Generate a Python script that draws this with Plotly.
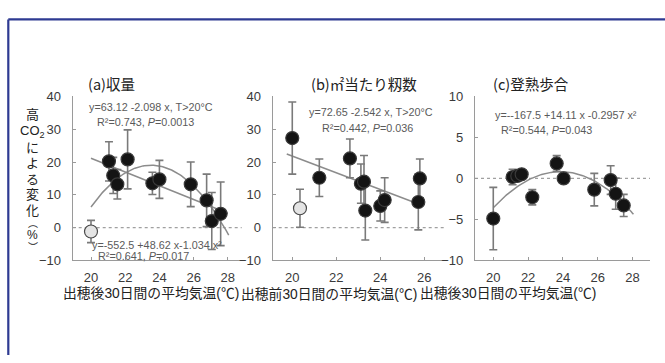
import numpy as np
import plotly.graph_objects as go

W, H = 665, 363

# ---------------- data ----------------
# (a) yield, x = mean temp 30 days after heading
a_x = [20.0, 21.05, 21.3, 21.54, 22.14, 23.59, 24.0, 25.83, 26.76, 27.06, 27.58]
a_y = [-1.2, 20.2, 15.9, 13.2, 20.8, 13.5, 14.7, 13.2, 8.3, 2.0, 4.2]
a_err = [3.4, 6.0, 5.5, 4.5, 9.0, 3.4, 5.8, 6.8, 8.0, 8.7, 9.7]
a_open = [True, False, False, False, False, False, False, False, False, False, False]
a_lin_coef = [63.12, -2.098]
a_lin_span = [20.0, 28.0]
a_quad_coef = [-552.5, 48.62, -1.034]
a_quad_span = [20.0, 28.05]

# (b) spikelets per m2, x = mean temp 30 days before heading
b_x = [20.35, 20.0, 21.23, 22.62, 23.12, 23.26, 23.32, 24.0, 24.2, 25.73, 25.8]
b_y = [5.9, 27.3, 15.2, 21.1, 13.4, 14.0, 5.2, 6.6, 8.4, 7.8, 15.0]
b_err = [5.8, 11.0, 5.7, 5.9, 6.0, 8.0, 9.0, 4.6, 6.8, 8.5, 5.9]
b_open = [True, False, False, False, False, False, False, False, False, False, False]
b_lin_coef = [72.65, -2.542]
b_lin_span = [19.75, 25.8]

# (c) ripening ratio
c_x = [20.0, 21.11, 21.38, 21.63, 22.24, 23.64, 24.04, 25.8, 26.74, 27.03, 27.49]
c_y = [-4.9, 0.17, 0.3, 0.5, -2.3, 1.83, 0.0, -1.37, -0.2, -1.87, -3.3]
c_err = [3.8, 0.95, 0.6, 0.4, 0.93, 0.95, 0.3, 1.98, 1.75, 1.9, 1.35]
c_quad_coef = [-167.5, 14.11, -0.2957]
c_quad_span = [20.0, 28.05]

a_xticks = [20, 22, 24, 26, 28]
b_xticks = [20, 22, 24, 26]
c_xticks = [20, 22, 24, 26, 28]
ab_yticks = [-10, 0, 10, 20, 30, 40]
c_yticks = [-10, -5, 0, 5, 10]

titles = ["(a)収量", "(b)㎡当たり籾数", "(c)登熟歩合"]
xtitles = ["出穂後30日間の平均気温(℃)", "出穂前30日間の平均気温(℃)", "出穂後30日間の平均気温(℃)"]
ylabel_chars = ["高", "CO<sub>2</sub>", "に", "よ", "る", "変", "化", "︵", "%", "︶"]

eq_a1 = "y=63.12 -2.098 x, T>20°C"
eq_a2 = "R²=0.743, <i>P</i>=0.0013"
eq_a3 = "y=-552.5 +48.62 x-1.034 x²"
eq_a4 = "R²=0.641, <i>P</i>=0.017"
eq_b1 = "y=72.65 -2.542 x, T>20°C"
eq_b2 = "R²=0.442, <i>P</i>=0.036"
eq_c1 = "y=--167.5 +14.11 x -0.2957 x²"
eq_c2 = "R²=0.544, <i>P</i>=0.043"

# ---------------- styles ----------------
CJK = "Noto Sans CJK JP"
LAT = "Liberation Sans, Arial, sans-serif"
MIX = "Liberation Sans, Noto Sans CJK JP, sans-serif"
AX = "#9a9a9a"
TXT = "#3a3a3a"
EQ = "#5a5a5a"
FIT = "#8c8c8c"

fig = go.Figure()


def px2x(px):
    return px / W


def py2y(py):
    return 1 - py / H


def poly(coef, xs):
    return sum(c * xs ** i for i, c in enumerate(coef))


def add_fit(coef, span, xa, ya):
    xs = np.linspace(span[0], span[1], 120)
    fig.add_trace(go.Scatter(x=xs, y=poly(coef, xs), mode="lines",
                             line=dict(color=FIT, width=1.5),
                             xaxis=xa, yaxis=ya, showlegend=False, hoverinfo="skip"))


def add_points(xv, yv, ev, openflag, xa, ya):
    fills = ["#e4e4e4" if o else "#141414" for o in openflag]
    lines = ["#4a4a4a" if o else "#3a3a3a" for o in openflag]
    fig.add_trace(go.Scatter(x=xv, y=yv, mode="markers",
                             error_y=dict(type="data", array=ev, color="#7a7a7a",
                                          thickness=1.6, width=4),
                             marker=dict(size=13, color=fills,
                                         line=dict(color=lines, width=1.2)),
                             xaxis=xa, yaxis=ya, showlegend=False))


add_fit(a_lin_coef, a_lin_span, "x", "y")
add_fit(a_quad_coef, a_quad_span, "x", "y")
add_points(a_x, a_y, a_err, a_open, "x", "y")

add_fit(b_lin_coef, b_lin_span, "x2", "y2")
add_points(b_x, b_y, b_err, b_open, "x2", "y2")

add_fit(c_quad_coef, c_quad_span, "x3", "y3")
add_points(c_x, c_y, c_err, [False] * len(c_x), "x3", "y3")

# axis geometry (pixels in the target picture)
y_top, y_bot = 93.3, 264.3
doms = [(72.7, 241.7), (272.7, 446.7), (475.0, 650.0)]
xranges = [[18.93, 28.81], [19.11, 27.02], [18.95, 29.0]]
xticks = [a_xticks, b_xticks, c_xticks]
yranges = [[-10, 40], [-10, 40], [-10, 10]]
yticks = [ab_yticks, ab_yticks, c_yticks]

layout_axes = {}
for i in range(3):
    sfx = "" if i == 0 else str(i + 1)
    layout_axes["xaxis" + sfx] = dict(
        domain=[px2x(doms[i][0]), px2x(doms[i][1])], range=xranges[i],
        anchor="y" + sfx, tickvals=xticks[i], ticks="inside", ticklen=3,
        tickcolor=AX, showline=True, linecolor=AX, linewidth=1.2,
        showgrid=False, zeroline=False, ticklabelstandoff=5,
        tickfont=dict(family=LAT, size=13, color=TXT))
    layout_axes["yaxis" + sfx] = dict(
        domain=[py2y(y_bot), py2y(y_top)], range=yranges[i],
        anchor="x" + sfx, tickvals=yticks[i], ticks="inside", ticklen=3,
        tickcolor=AX, showline=True, linecolor=AX, linewidth=1.2,
        showgrid=False, zeroline=False, ticklabelstandoff=8,
        tickfont=dict(family=LAT, size=13, color=TXT))

shapes = []
for i in range(3):
    sfx = "" if i == 0 else str(i + 1)
    shapes.append(dict(type="line", xref=("x" + sfx) + " domain", yref="y" + sfx,
                       x0=0, x1=1, y0=0, y1=0,
                       line=dict(color="#a0a0a0", width=1.2, dash="dot"), layer="below"))
# blue frame (top and left edges)
shapes.append(dict(type="line", xref="paper", yref="paper", x0=px2x(8.3), x1=1.0,
                   y0=py2y(13), y1=py2y(13), line=dict(color="#2e3a92", width=2.2)))
shapes.append(dict(type="line", xref="paper", yref="paper", x0=px2x(8.3), x1=px2x(8.3),
                   y0=py2y(13), y1=0, line=dict(color="#2e3a92", width=2.2)))

ann = []


def text(px, py, s, size, color, family, xanchor="center", pad=1):
    ann.append(dict(x=px2x(px), y=py2y(py), xref="paper", yref="paper", text=s,
                    showarrow=False, xanchor=xanchor, yanchor="middle", borderpad=pad,
                    font=dict(size=size, color=color, family=family)))


# panel titles
text(111, 80, titles[0], 14.5, "#222", CJK)
text(364, 80, titles[1], 14.5, "#222", CJK)
text(531, 80, titles[2], 14.5, "#222", CJK)

# x-axis titles
text(151, 299, xtitles[0], 13.8, "#222", MIX, pad=0)
text(329, 299, xtitles[1], 13.8, "#222", MIX, pad=0)
text(508, 299, xtitles[2], 13.8, "#222", MIX, pad=0)

# equations
text(151, 104, eq_a1, 10.8, EQ, LAT)
text(145, 120, eq_a2, 10.8, EQ, LAT)
text(157, 248, eq_a3, 10.8, EQ, LAT)
text(143, 259.5, eq_a4, 10.8, EQ, LAT)
text(371, 110, eq_b1, 10.8, EQ, LAT)
text(367, 126, eq_b2, 10.8, EQ, LAT)
text(566, 113, eq_c1, 10.8, EQ, LAT)
text(546, 128, eq_c2, 10.8, EQ, LAT)

# vertical y label, one character per row
ylabel_py = [112, 129.5, 146.5, 163.5, 180, 196, 212, 225.5, 238.2, 251]
ylabel_sz = [13, 13, 13, 13, 13, 13, 13, 10, 12, 10]
for ch, py, sz in zip(ylabel_chars, ylabel_py, ylabel_sz):
    text(32.5, py, ch, sz, "#222", MIX, pad=0)

fig.update_layout(width=W, height=H, margin=dict(l=0, r=0, t=0, b=0),
                  paper_bgcolor="white", plot_bgcolor="white",
                  shapes=shapes, annotations=ann, showlegend=False, **layout_axes)

fig.write_html("out.html",
               config={"displayModeBar": False},
               post_script="document.body.style.margin='0';"
                           "document.body.style.overflow='hidden';")
